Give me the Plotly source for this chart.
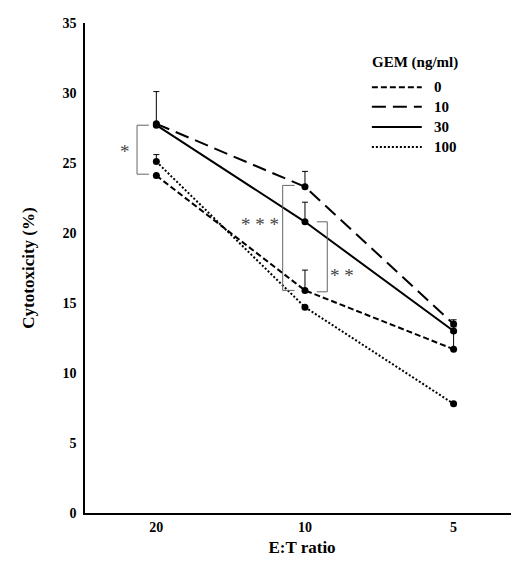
import plotly.graph_objects as go

categories = ["20", "10", "5"]
series_names = ["0", "10", "30", "100"]
vals_0 = [24.1, 15.9, 11.7]
vals_10 = [27.8, 23.3, 13.5]
vals_30 = [27.7, 20.8, 13.0]
vals_100 = [25.1, 14.7, 7.8]
err_0 = [0.0, 1.45, 1.2]
err_10 = [2.3, 1.1, 0.3]
err_30 = [0.0, 1.4, 0.3]
err_100 = [0.5, 0.0, 0.0]
y_ticks = [0, 5, 10, 15, 20, 25, 30, 35]

FONT = "Liberation Serif"
xs = [0, 1, 2]

fig = go.Figure()
dashes = ["6px,3px", "14px,7px", "solid", "2px,2px"]
series = [vals_0, vals_10, vals_30, vals_100]
errs = [err_0, err_10, err_30, err_100]
for name, v, e, dash in zip(series_names, series, errs, dashes):
    fig.add_trace(go.Scatter(
        x=xs, y=v, name=name, mode="lines+markers", showlegend=False,
        line=dict(color="black", width=2, dash=dash),
        marker=dict(color="black", size=7),
        error_y=dict(type="data", array=e, arrayminus=[0] * len(e),
                     symmetric=False, color="black", thickness=1, width=3),
    ))

# significance brackets
br = dict(color="#666", width=1)
def bracket(x_v, x_t, y0, y1):
    fig.add_shape(type="line", x0=x_v, x1=x_v, y0=y0, y1=y1, line=br)
    fig.add_shape(type="line", x0=x_v, x1=x_t, y0=y0, y1=y0, line=br)
    fig.add_shape(type="line", x0=x_v, x1=x_t, y0=y1, y1=y1, line=br)

bracket(-0.13, -0.05, 27.7, 24.2)
bracket(0.85, 0.93, 23.4, 15.9)
bracket(1.15, 1.08, 20.8, 15.8)
for txt, x, y in [("*", -0.21, 25.8), ("* * *", 0.70, 20.6), ("* *", 1.25, 17.0)]:
    fig.add_annotation(x=x, y=y, text=txt, showarrow=False,
                       xanchor="center", yanchor="middle",
                       font=dict(family=FONT, size=19, color="#444"))

# legend (drawn manually to match sample length/placement)
fig.add_annotation(xref="paper", yref="paper", x=0.760, y=0.920,
                   text="<b>GEM (ng/ml)</b>", showarrow=False,
                   xanchor="center", yanchor="middle",
                   font=dict(family=FONT, size=15, color="black"))
leg_y = [0.869, 0.829, 0.788, 0.747]
for name, dash, ly in zip(series_names, dashes, leg_y):
    fig.add_shape(type="line", xref="paper", yref="paper",
                  x0=0.661, x1=0.776, y0=ly, y1=ly,
                  line=dict(color="black", width=2, dash=dash))
    fig.add_annotation(xref="paper", yref="paper", x=0.800, y=ly,
                       text=f"<b>{name}</b>", showarrow=False,
                       xanchor="left", yanchor="middle",
                       font=dict(family=FONT, size=15, color="black"))

fig.update_layout(
    width=511, height=559,
    margin=dict(l=77, r=0, t=15, b=54),
    paper_bgcolor="white", plot_bgcolor="white",
    font=dict(family=FONT, color="black"),
    showlegend=False,
    xaxis=dict(
        tickmode="array", tickvals=xs, ticktext=[f"<b>{c}</b>" for c in categories],
        range=[-0.48, 2.44], showline=True, linecolor="black", linewidth=1.5,
        showgrid=False, zeroline=False, ticks="", ticklabelstandoff=0,
        tickfont=dict(size=14, family=FONT),
        title=dict(text="<b>E:T ratio</b>", font=dict(size=17, family=FONT), standoff=8),
    ),
    yaxis=dict(
        range=[0, 35], tickmode="array", tickvals=y_ticks,
        ticktext=[f"<b>{t}</b>" for t in y_ticks],
        showline=True, linecolor="black", linewidth=1.5,
        showgrid=False, zeroline=False, ticks="", ticklabelstandoff=4,
        tickfont=dict(size=14, family=FONT),
        title=dict(text="<b>Cytotoxicity (%)</b>", font=dict(size=17, family=FONT), standoff=24),
    ),
)

fig.write_html("out.html")
